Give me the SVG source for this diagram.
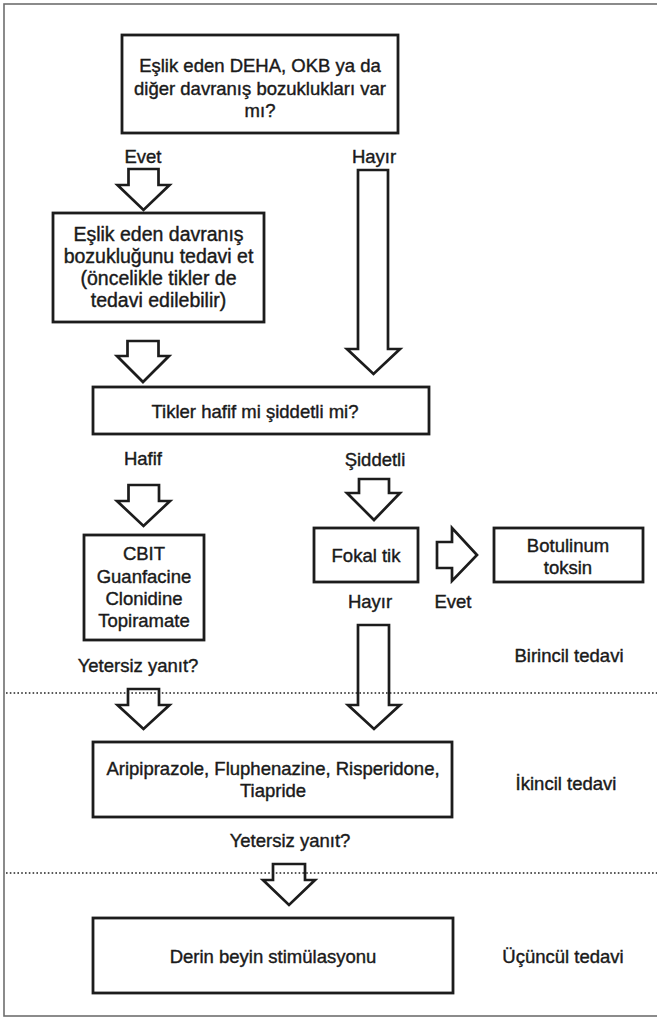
<svg xmlns="http://www.w3.org/2000/svg" width="657" height="1019" viewBox="0 0 657 1019">
<style>
.frame{fill:none;stroke:#6e6e6e;stroke-width:1.6}
.box{fill:#fff;stroke:#1c1c1c;stroke-width:2.8}
.arr{fill:#fff;stroke:#1c1c1c;stroke-width:2.7;stroke-linejoin:miter}
.dot{stroke:#222;stroke-width:1.7;stroke-dasharray:1.6 2.2;fill:none}
text{font-family:"Liberation Sans",Arial,Helvetica,sans-serif;font-size:18.5px;fill:#1a1a1a;stroke:#1a1a1a;stroke-width:0.4;text-anchor:middle}
.b2{font-size:19.5px}
</style>
<rect width="657" height="1019" fill="#fff"/>
<rect class="frame" x="4" y="4" width="660" height="1012"/>

<g id="connectors">
  <path class="arr" d="M128.5,169 H158.5 V185 H169.5 L143.5,210 L117.5,185 H128.5 Z"/>
  <path class="arr" d="M127.5,341 H158.5 V356 H169 L143,382 L117,356 H127.5 Z"/>
  <path class="arr" d="M358,170 H388 V349 H400 L373.5,374 L347,349 H358 Z"/>
  <path class="arr" d="M128.5,485 H159 V501 H170 L143.5,526 L117,501 H128.5 Z"/>
  <path class="arr" d="M359,479 H389 V493 H400 L374,520 L347,493 H359 Z"/>
  <path class="arr" d="M437,542 H452 V528 L477,555 L452,581 V568 H437 Z"/>
  <path class="arr" d="M358,625 H389 V705 H400 L374,729 L348,705 H358 Z"/>
  <path class="arr" d="M128,689 H159 V705 H169.5 L143.5,729 L117.5,705 H128 Z"/>
  <path class="arr" d="M273,864 H305 V880 H315 L289,905 L263,880 H273 Z"/>
  <text x="143" y="163">Evet</text>
  <text x="374" y="163">Hayır</text>
  <text x="143" y="465">Hafif</text>
  <text x="375" y="466">Şiddetli</text>
  <text x="370" y="608">Hayır</text>
  <text x="453" y="608">Evet</text>
  <text x="138" y="672">Yetersiz yanıt?</text>
  <text x="290" y="847">Yetersiz yanıt?</text>
</g>

<g id="levels">
  <line class="dot" x1="6" y1="693" x2="657" y2="693"/>
  <line class="dot" x1="6" y1="873" x2="657" y2="873"/>
  <text x="569" y="662">Birincil tedavi</text>
  <text x="566" y="790">İkincil tedavi</text>
  <text x="563" y="963">Üçüncül tedavi</text>
</g>

<g id="n1">
  <rect class="box" x="122" y="35" width="276" height="98"/>
  <text x="260" y="72">Eşlik eden DEHA, OKB ya da</text>
  <text x="260" y="95">diğer davranış bozuklukları var</text>
  <text x="260" y="117">mı?</text>
</g>
<g id="n2">
  <rect class="box" x="53" y="213" width="211" height="109"/>
  <text class="b2" x="158.5" y="241">Eşlik eden davranış</text>
  <text class="b2" x="158.5" y="263">bozukluğunu tedavi et</text>
  <text class="b2" x="158.5" y="285">(öncelikle tikler de</text>
  <text class="b2" x="158.5" y="307">tedavi edilebilir)</text>
</g>
<g id="n3">
  <rect class="box" x="93" y="387" width="336" height="47"/>
  <text x="255" y="418">Tikler hafif mi şiddetli mi?</text>
</g>
<g id="n4">
  <rect class="box" x="84" y="535" width="120" height="105"/>
  <text x="144" y="560">CBIT</text>
  <text x="144" y="583">Guanfacine</text>
  <text x="144" y="605">Clonidine</text>
  <text x="144" y="627">Topiramate</text>
</g>
<g id="n5">
  <rect class="box" x="314" y="528" width="104" height="54"/>
  <text x="366" y="562">Fokal tik</text>
</g>
<g id="n6">
  <rect class="box" x="494" y="528" width="149" height="54"/>
  <text x="568" y="552">Botulinum</text>
  <text x="568" y="574">toksin</text>
</g>
<g id="n7">
  <rect class="box" x="93" y="742" width="359" height="75"/>
  <text x="273" y="775">Aripiprazole, Fluphenazine, Risperidone,</text>
  <text x="273" y="797">Tiapride</text>
</g>
<g id="n8">
  <rect class="box" x="93" y="918" width="360" height="75"/>
  <text x="273" y="963">Derin beyin stimülasyonu</text>
</g>
</svg>
